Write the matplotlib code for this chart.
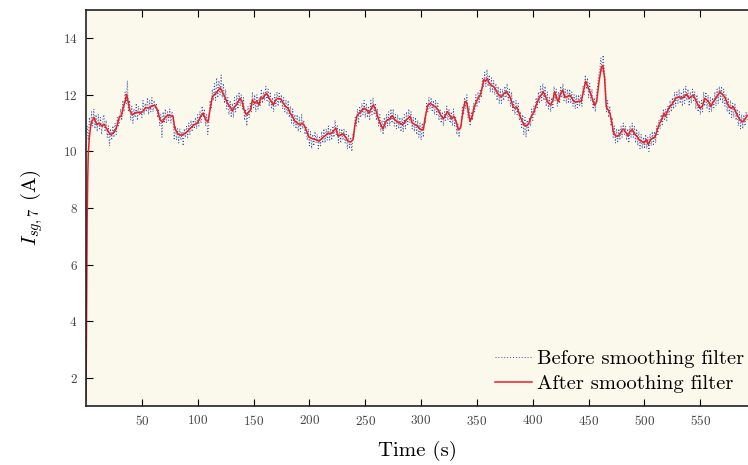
import numpy as np
import matplotlib
matplotlib.use("Agg")
import matplotlib.pyplot as plt

plt.rcParams['font.family'] = 'serif'
plt.rcParams['font.serif'] = ['cmr10', 'DejaVu Serif']
plt.rcParams['mathtext.fontset'] = 'cm'
plt.rcParams['axes.formatter.use_mathtext'] = True

# ---- data -------------------------------------------------------------
before_t0 = 0.0
before_dt = 1.0
before_vals = [
    10.6, 10.9, 10.4, 11.2, 10.8, 11.4, 10.9, 11.5, 10.8, 11.3,
    10.7, 11.3, 10.8, 11.2, 10.6, 11.1, 11.3, 10.7, 11.1, 10.5,
    10.9, 10.2, 10.8, 10.4, 10.9, 10.5, 11.0, 10.6, 11.2, 10.9,
    11.0, 11.5, 11.1, 11.8, 11.4, 12.1, 11.7, 12.5, 11.4, 11.8,
    11.1, 11.6, 11.0, 11.5, 11.2, 11.7, 11.1, 11.6, 11.3, 11.5,
    11.2, 11.8, 11.3, 11.7, 11.4, 11.9, 11.3, 11.8, 11.4, 11.9,
    11.4, 11.8, 11.5, 11.7, 11.2, 11.5, 10.9, 11.3, 10.5, 11.4,
    11.0, 11.5, 11.0, 11.4, 11.1, 11.5, 11.0, 11.4, 11.2, 10.4,
    10.9, 10.4, 10.8, 10.3, 10.8, 10.4, 10.7, 10.2, 10.8, 10.5,
    10.9, 10.5, 11.0, 10.6, 11.1, 10.7, 11.1, 10.8, 11.2, 10.8,
    11.3, 10.9, 11.4, 11.0, 11.6, 11.2, 11.5, 10.9, 11.3, 10.6,
    11.0, 11.8, 11.5, 12.2, 11.8, 12.4, 11.8, 12.6, 11.9, 12.5,
    12.0, 12.7, 11.9, 12.4, 11.7, 12.2, 11.5, 11.9, 11.3, 11.8,
    11.2, 11.7, 11.2, 11.9, 11.4, 12.0, 11.5, 12.1, 11.6, 12.0,
    11.5, 11.9, 11.1, 11.5, 10.9, 11.6, 11.2, 11.7, 11.4, 12.1,
    11.5, 12.0, 11.4, 12.0, 11.5, 11.9, 11.6, 12.2, 11.7, 12.1,
    11.8, 12.3, 11.8, 12.2, 11.6, 12.1, 11.5, 11.9, 11.4, 12.0,
    11.6, 12.1, 11.6, 12.1, 11.7, 12.0, 11.5, 11.9, 11.4, 11.8,
    11.3, 11.8, 11.2, 11.6, 11.0, 11.5, 10.9, 11.3, 10.8, 11.3,
    10.7, 11.2, 10.7, 11.3, 10.8, 11.1, 10.6, 10.9, 10.4, 10.8,
    10.2, 10.7, 10.1, 10.6, 10.2, 10.7, 10.3, 10.6, 10.1, 10.5,
    10.2, 10.7, 10.3, 10.8, 10.3, 10.8, 10.4, 10.9, 10.4, 10.8,
    10.4, 10.9, 10.5, 11.1, 10.6, 10.9, 10.3, 10.8, 10.3, 10.8,
    10.4, 10.8, 10.3, 10.7, 10.1, 10.6, 10.1, 10.5, 10.0, 10.6,
    10.5, 11.2, 10.9, 11.5, 11.0, 11.6, 11.2, 11.7, 11.3, 11.8,
    11.2, 11.7, 11.2, 11.6, 11.1, 11.8, 11.3, 11.9, 11.3, 11.7,
    11.1, 11.5, 10.9, 11.3, 10.7, 11.1, 10.6, 11.2, 10.8, 11.3,
    10.9, 11.4, 10.9, 11.5, 11.0, 11.5, 10.9, 11.3, 10.8, 11.3,
    10.8, 11.2, 10.7, 11.2, 10.7, 11.3, 10.8, 11.4, 10.9, 11.5,
    11.0, 11.4, 10.8, 11.2, 10.7, 11.2, 10.6, 11.1, 10.5, 11.0,
    10.4, 11.0, 10.5, 11.2, 11.0, 11.7, 11.4, 11.9, 11.5, 11.9,
    11.4, 11.8, 11.3, 11.8, 11.3, 11.7, 11.1, 11.5, 11.0, 11.4,
    10.9, 11.4, 11.1, 11.6, 11.1, 11.5, 11.0, 11.4, 10.9, 11.5,
    10.9, 11.2, 10.6, 11.0, 10.5, 10.9, 10.9, 11.6, 11.3, 11.9,
    11.5, 12.0, 11.2, 11.6, 10.9, 11.4, 11.1, 11.7, 11.4, 12.0,
    11.6, 12.1, 11.7, 12.2, 11.9, 12.6, 12.3, 12.8, 12.3, 12.9,
    12.3, 12.7, 12.1, 12.6, 12.1, 12.5, 12.0, 12.4, 11.8, 12.3,
    11.7, 12.2, 11.7, 12.2, 11.8, 12.3, 11.9, 12.4, 11.8, 12.2,
    11.6, 12.1, 11.4, 11.8, 11.3, 11.8, 11.3, 11.7, 11.1, 11.4,
    10.8, 11.3, 10.6, 11.2, 10.5, 11.1, 10.7, 11.2, 10.9, 11.5,
    11.1, 11.6, 11.3, 11.9, 11.5, 12.1, 11.7, 12.3, 11.8, 12.4,
    11.8, 12.3, 11.6, 12.1, 11.5, 11.9, 11.4, 11.9, 11.5, 12.3,
    11.8, 12.2, 11.6, 12.1, 11.7, 12.3, 11.9, 12.4, 11.8, 12.2,
    11.7, 12.2, 11.7, 12.2, 11.7, 12.1, 11.6, 12.0, 11.5, 12.0,
    11.5, 12.0, 11.6, 12.0, 11.6, 12.3, 12.0, 12.7, 12.2, 12.6,
    11.9, 12.4, 11.8, 12.2, 11.5, 11.9, 11.4, 12.0, 12.3, 12.7,
    12.9, 13.3, 12.8, 13.4, 12.9, 12.5, 11.4, 11.8, 11.2, 11.6,
    10.9, 11.2, 10.5, 10.9, 10.3, 10.8, 10.3, 10.8, 10.4, 10.9,
    10.5, 11.0, 10.6, 10.9, 10.4, 10.8, 10.3, 10.9, 10.5, 11.0,
    10.5, 10.9, 10.3, 10.8, 10.2, 10.7, 10.1, 10.6, 10.1, 10.5,
    10.1, 10.6, 10.1, 10.5, 10.0, 10.6, 10.2, 10.7, 10.2, 10.7,
    10.3, 10.9, 10.6, 11.1, 10.8, 11.3, 10.9, 11.5, 11.1, 11.5,
    11.1, 11.6, 11.3, 11.8, 11.4, 11.9, 11.5, 12.1, 11.6, 12.1,
    11.7, 12.2, 11.7, 12.1, 11.6, 12.2, 11.7, 12.3, 11.8, 12.2,
    11.6, 12.1, 11.7, 12.2, 11.8, 12.1, 11.5, 12.0, 11.4, 11.8,
    11.3, 11.8, 11.4, 12.1, 11.6, 12.1, 11.5, 12.0, 11.4, 11.9,
    11.4, 11.9, 11.5, 12.1, 11.6, 12.2, 11.7, 12.3, 11.8, 12.3,
    11.7, 12.2, 11.6, 12.0, 11.4, 11.9, 11.3, 11.8, 11.2, 11.7,
    11.2, 11.7, 11.1, 11.5, 10.9, 11.4, 10.8, 11.3, 10.8, 11.3,
    10.9, 11.4, 11.1,
]

after_t = [
    0, 0.5, 1, 1.5, 2, 3, 4, 5, 7.2, 9.6, 11.6, 14.6, 16, 19, 21.5, 23.6,
    26.6, 28, 30, 31.6, 33.4, 35, 36.4, 37.6, 39, 41.5, 43.6, 46, 49, 52,
    53.4, 56.4, 59.4, 61.8, 63.9, 66.3, 68.4, 70.4, 72.8, 75.8, 77.9, 79.4,
    81.8, 84.2, 86.3, 89.3, 91.3, 93.7, 96.7, 99.7, 102.7, 105, 107.1,
    109.2, 111, 113.1, 115.2, 117.6, 120, 122, 124.2, 126.6, 129, 131,
    133.1, 135.5, 137.9, 140, 141.5, 143.6, 146, 147.4, 149, 151, 152.8,
    154.9, 156.4, 158.8, 160, 161.8, 163.9, 166, 167.7, 169.8, 171.9,
    174.3, 176.7, 178.8, 180.9, 182.7, 184.8, 186.8, 189.2, 191.6, 193.7,
    195.8, 197.6, 199.7, 202.7, 205.6, 208.6, 211.6, 214.6, 216.7, 219.1,
    221.5, 223.6, 225.6, 228, 230.4, 232.5, 234.6, 237, 239.1, 240.6,
    242.4, 244.5, 246.5, 248.9, 251.3, 253.4, 255.5, 257.3, 259.4, 261.5,
    263.9, 266, 267.7, 269.8, 272.2, 274.3, 276.4, 278.8, 281.2, 283.3,
    285.3, 287.7, 290.1, 292.2, 294.3, 296.6, 299.6, 302, 304.1, 306.1,
    308.5, 310.9, 313, 315.1, 317.5, 320, 322, 323.5, 325.5, 327.3, 329.4,
    331.5, 333.3, 335.4, 337.5, 339.3, 340.8, 342.3, 343.8, 345.8, 347.3,
    349.4, 351.2, 353.3, 354.8, 356.3, 357.8, 359.3, 360.8, 362.9, 365.2,
    367.6, 369.7, 371.8, 374.2, 376.3, 378.1, 380.2, 382.3, 384.1, 386.1,
    388.2, 390, 392.1, 394.5, 396.6, 398.7, 401.1, 403.1, 405.5, 407.6,
    409.4, 411.5, 413.6, 416, 418.1, 419.6, 421.4, 422.8, 424.9, 427,
    428.5, 430.9, 433, 434.8, 436.9, 439.3, 441.4, 443.4, 445.2, 447.3,
    449.4, 451.2, 453.2, 455.4, 457.2, 459.3, 461.4, 462.8, 464.3, 465.8,
    467.3, 469.1, 470.6, 472.1, 474.2, 476.3, 478.1, 480.2, 481.7, 483.7,
    485.5, 487, 489.1, 491.2, 493, 495.1, 497.2, 499.6, 501.7, 503.4,
    505.5, 507.6, 509.4, 511.5, 513.6, 515.4, 517.5, 518.9, 520.4, 522.5,
    524.3, 526.4, 528.5, 530.9, 533, 535.4, 537.8, 539.9, 541.9, 543.7,
    545.8, 547.9, 549.7, 551.8, 553.9, 555.7, 557.8, 559.3, 561.4, 563.7,
    565.8, 567.6, 569.7, 571.8, 573.6, 575.7, 577.8, 579.6, 581.6, 583.7,
    585.5, 587.6, 589.7, 592,
]
after_v = [
    1.2, 4.5, 7.5, 9.0, 9.9, 10.5, 10.85, 11.05, 11.2, 10.94, 11.0, 10.89,
    10.97, 10.77, 10.6, 10.62, 10.77, 10.94, 11.24, 11.24, 11.58, 11.76,
    12.02, 11.78, 11.47, 11.29, 11.35, 11.39, 11.35, 11.47, 11.55, 11.53,
    11.62, 11.62, 11.47, 11.12, 11.03, 11.18, 11.27, 11.26, 11.24, 10.83,
    10.65, 10.57, 10.59, 10.65, 10.73, 10.83, 10.94, 11.0, 11.24, 11.35,
    11.12, 11.04, 11.47, 11.93, 12.02, 12.11, 12.25, 12.11, 11.93, 11.7,
    11.58, 11.43, 11.58, 11.7, 11.88, 11.74, 11.47, 11.29, 11.41, 11.47,
    11.82, 11.7, 11.78, 11.64, 11.9, 11.88, 11.99, 12.05, 11.88, 11.76,
    11.64, 11.82, 11.88, 11.85, 11.7, 11.58, 11.53, 11.35, 11.24, 11.08,
    11.0, 10.94, 11.0, 10.89, 10.71, 10.5, 10.45, 10.42, 10.36, 10.48,
    10.57, 10.65, 10.62, 10.71, 10.83, 10.54, 10.59, 10.62, 10.5, 10.36,
    10.33, 10.42, 10.89, 11.24, 11.35, 11.43, 11.53, 11.47, 11.35, 11.53,
    11.64, 11.47, 11.18, 10.94, 10.8, 11.0, 11.12, 11.15, 11.27, 11.12,
    11.04, 11.0, 10.94, 11.04, 11.15, 11.24, 11.0, 10.95, 10.9, 10.77,
    10.77, 11.29, 11.64, 11.7, 11.61, 11.58, 11.47, 11.29, 11.15, 11.29,
    11.41, 11.29, 11.15, 11.24, 11.04, 10.77, 10.83, 11.41, 11.76, 11.74,
    11.41, 11.06, 11.24, 11.53, 11.76, 11.88, 12.02, 12.28, 12.54, 12.48,
    12.58, 12.42, 12.34, 12.28, 12.13, 11.99, 11.93, 12.05, 12.11, 12.02,
    11.88, 11.58, 11.53, 11.55, 11.29, 11.12, 10.94, 10.9, 11.0, 11.24,
    11.41, 11.64, 11.88, 11.99, 12.11, 11.93, 11.74, 11.64, 11.82, 12.11,
    11.88, 11.76, 12.05, 12.17, 11.93, 11.93, 11.99, 11.9, 11.76, 11.74,
    11.78, 11.76, 12.11, 12.48, 12.28, 12.11, 11.88, 11.62, 11.76, 12.46,
    12.98, 13.04, 12.58, 11.58, 11.47, 11.35, 11.06, 10.69, 10.54, 10.54,
    10.62, 10.77, 10.77, 10.65, 10.54, 10.71, 10.77, 10.62, 10.55, 10.42,
    10.36, 10.3, 10.42, 10.24, 10.42, 10.48, 10.5, 10.77, 11.0, 11.12,
    11.35, 11.24, 11.41, 11.58, 11.64, 11.78, 11.9, 11.93, 11.88, 11.93,
    12.02, 11.88, 11.93, 11.99, 11.82, 11.64, 11.53, 11.58, 11.88, 11.82,
    11.74, 11.58, 11.74, 11.88, 11.99, 12.11, 12.02, 11.93, 11.76, 11.58,
    11.53, 11.58, 11.41, 11.24, 11.12, 11.04, 11.12, 11.27,
]

x_ticks = [50, 100, 150, 200, 250, 300, 350, 400, 450, 500, 550]
y_ticks = [2, 4, 6, 8, 10, 12, 14]

# ---- figure -------------------------------------------------------------
fig = plt.figure(figsize=(7.48, 4.65), dpi=100)
ax = fig.add_axes([0.115, 0.127, 0.885, 0.8515])
ax.set_facecolor('#fbf8ec')

before_t = before_t0 + before_dt * np.arange(len(before_vals))
ax.plot(before_t, before_vals, linestyle=(0, (1.0, 2.0)), color='#3552a8',
        lw=0.7, label='Before smoothing filter')
ax.plot(after_t, after_v, '-', color='#ee1c24', lw=1.1,
        label='After smoothing filter')

ax.set_xlim(0, 592.7)
ax.set_ylim(1, 15)
ax.set_xticks(x_ticks)
ax.set_yticks(y_ticks)
ax.tick_params(direction='in', top=True, right=False, length=5, width=0.8,
               labelsize=9.5, labelcolor='#444444', pad=6)
for s in ['left', 'bottom', 'top']:
    ax.spines[s].set_linewidth(1.2)
    ax.spines[s].set_color('#222222')
ax.spines['right'].set_visible(False)

ax.set_xlabel('Time (s)', fontsize=15, labelpad=9)
ax.set_ylabel(r'$I_{sg,7}$ (A)', fontsize=15, labelpad=13)

leg = ax.legend(loc='lower right', bbox_to_anchor=(1.0, 0.023),
                frameon=False, fontsize=14.8,
                handlelength=1.8, handletextpad=0.25, labelspacing=0.3,
                borderpad=0.1, borderaxespad=0.1)

fig.savefig('out.png', dpi=100)
